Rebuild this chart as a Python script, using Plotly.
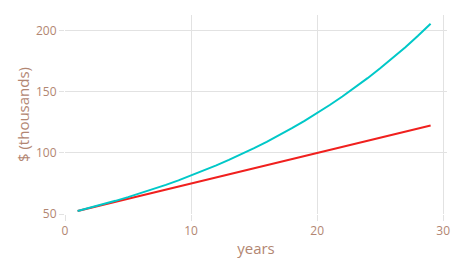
import plotly.graph_objects as go

years = list(range(1, 30))
simple = [52.5, 55.0, 57.5, 60.0, 62.5, 65.0, 67.5, 70.0, 72.5, 75.0,
          77.5, 80.0, 82.5, 85.0, 87.5, 90.0, 92.5, 95.0, 97.5, 100.0,
          102.5, 105.0, 107.5, 110.0, 112.5, 115.0, 117.5, 120.0, 122.5]
compound = [52.5, 55.13, 57.88, 60.78, 63.81, 67.0, 70.36, 73.87, 77.57, 81.44,
            85.52, 89.79, 94.28, 99.0, 103.95, 109.14, 114.6, 120.33, 126.35, 132.66,
            139.3, 146.26, 153.58, 161.25, 169.32, 177.78, 186.67, 196.01, 205.81]
x_ticks = [0, 10, 20, 30]
y_ticks = [50, 100, 150, 200]

txt = "rgb(178,134,114)"
grid = "#e2e2e2"
font = "Open Sans, Noto Sans, sans-serif"

fig = go.Figure()
fig.add_trace(go.Scatter(x=years, y=simple, mode="lines",
                         line=dict(color="#f0201e", width=2), showlegend=False))
fig.add_trace(go.Scatter(x=years, y=compound, mode="lines",
                         line=dict(color="#00c8c8", width=2), showlegend=False))

fig.update_layout(
    width=463, height=270,
    margin=dict(l=65, r=16, t=15, b=56),
    paper_bgcolor="white", plot_bgcolor="white",
    font=dict(family=font, color=txt, size=12),
    xaxis=dict(range=[0, 30.3], tickvals=x_ticks, showgrid=True, gridcolor=grid,
               gridwidth=1, zeroline=False, showline=False,
               ticks="outside", ticklen=6, tickcolor=grid,
               title=dict(text="years", font=dict(size=15, color=txt), standoff=5),
               tickfont=dict(size=12, color=txt)),
    yaxis=dict(range=[50, 213], tickvals=y_ticks, showgrid=True, gridcolor=grid,
               gridwidth=1, zeroline=False, showline=False,
               ticks="outside", ticklen=5, tickcolor=grid,
               title=dict(text="$ (thousands)", font=dict(size=15, color=txt), standoff=2),
               tickfont=dict(size=12, color=txt)),
)

fig.write_html("out.html")
